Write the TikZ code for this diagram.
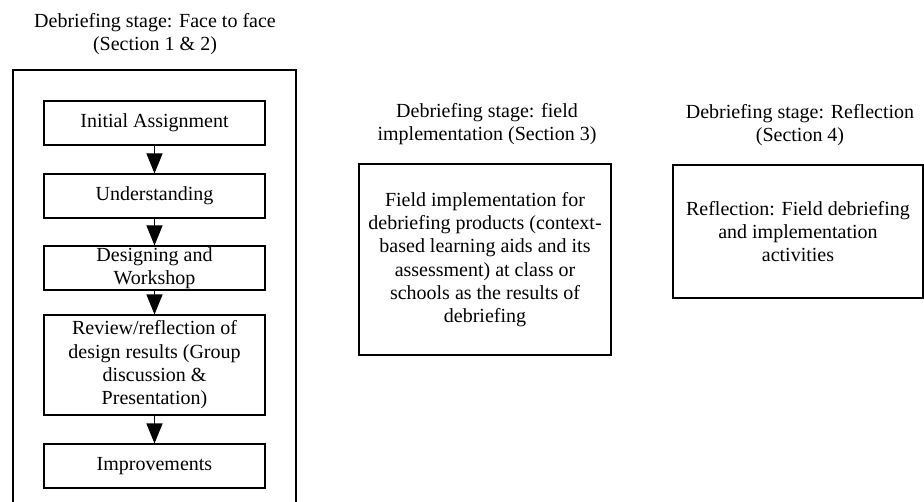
\documentclass[tikz,border=0pt]{standalone}
\usepackage{fontspec}
\setmainfont{Liberation Serif}
\usetikzlibrary{arrows.meta}
\tikzset{
    every node/.style={font=\fontsize{15}{17.5}\selectfont, align=center, inner sep=0pt}
}
\tikzset{stepbox/.style={draw, line width=0.8pt, minimum width=165.75pt, minimum height=33pt}}
\tikzset{stagebox/.style={draw, line width=0.8pt}}
\tikzset{flow/.style={line width=0.8pt, -{Triangle[length=15pt, width=12pt]}}}

\begin{document}
\begin{tikzpicture}[x=0.75pt, y=-0.75pt]
    \useasboundingbox (0,0) rectangle (924,502);

    \node (t1) at (155, 34) {Debriefing stage: Face to face\\(Section 1 \& 2)};
    \draw [line width=0.8pt] (13, 502) |- (296, 70) -- (296, 502);

    \node (ia) [stepbox] at (154.5, 123) {Initial Assignment};
    \node (un) [stepbox] at (154.5, 196) {Understanding};
    \node (dw) [stepbox] at (154.5, 268) {Designing and\\Workshop};
    \node (rr) [stepbox, minimum height=75pt] at (154.5, 365) {Review/reflection of\\design results (Group\\discussion \&\\Presentation)};
    \node (im) [stepbox] at (154.5, 466) {Improvements};

    \draw (ia) edge [flow] (un);
    \draw (un) edge [flow] (dw);
    \draw (dw) edge [flow] (rr);
    \draw (rr) edge [flow] (im);

    \node (t2) at (487, 124) {Debriefing stage: field\\implementation (Section 3)};
    \node (fi) [stagebox, minimum width=189pt, minimum height=143.25pt] at (485, 259.5) {Field implementation for\\debriefing products (context-\\based learning aids and its\\assessment) at class or\\schools as the results of\\debriefing};

    \node (t3) at (800, 125) {Debriefing stage: Reflection\\(Section 4)};
    \node (rf) [stagebox, minimum width=187.5pt, minimum height=99.75pt] at (798, 231.5) {Reflection: Field debriefing\\and implementation\\activities};
\end{tikzpicture}
\end{document}
